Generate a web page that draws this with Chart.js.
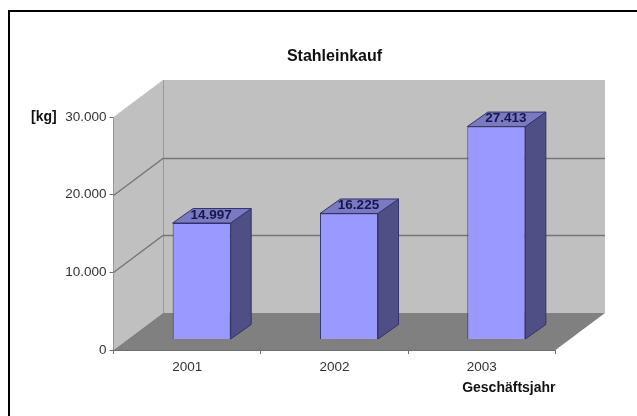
<!DOCTYPE html>
<html>
<head>
<meta charset="utf-8">
<title>Stahleinkauf</title>
<script src="https://cdn.jsdelivr.net/npm/chart.js@4"></script>
<style>
html, body { margin: 0; padding: 0; background: #fff; overflow: hidden; }
#wrap { position: relative; width: 637px; height: 416px; }
#frame { position: absolute; left: 8px; top: 10px; right: 0; bottom: 0; border-left: 2px solid #000; border-top: 2px solid #000; }
#my-chart { position: absolute; left: 0; top: 0; }
</style>
</head>
<body>
<div id="wrap">
<div id="frame"></div>
<canvas id="my-chart" width="637" height="416"></canvas>
</div>
<script>
const years = ['2001', '2002', '2003']
const steelKg = [14997, 16225, 27413]
const yAxisUnit = '[kg]'

const fontName = '"Liberation Sans", Arial, sans-serif'

//  3D look

const wallDepth = { x: 49.5, y: -37 }
const barOffset = { x: 14.5, y: -10.5 }
const barDepth = { x: 20.5, y: -14.5 }

const formatKg = function(v){
    return String(v).replace(/\B(?=(\d{3})+$)/g, '.')
}

var fillPoly = function(c, pts, fill, stroke){
    c.beginPath()
    pts.forEach((p, i) => { i == 0 ? c.moveTo(p[0], p[1]) : c.lineTo(p[0], p[1]) })
    c.closePath()
    c.fillStyle = fill
    c.fill()
    if(stroke){
        c.strokeStyle = stroke
        c.lineWidth = 1
        c.stroke()
    }
}

const walls = {
    id: 'walls',
    beforeDatasetsDraw(chart){
        const c = chart.ctx
        const a = chart.chartArea
        const dx = wallDepth.x, dy = wallDepth.y
        const yScale = chart.scales.y

        fillPoly(c, [[a.left + dx, a.top + dy], [a.right + dx, a.top + dy], [a.right + dx, a.bottom + dy], [a.left + dx, a.bottom + dy]], '#c0c0c0')
        fillPoly(c, [[a.left, a.bottom], [a.left, a.top], [a.left + dx, a.top + dy], [a.left + dx, a.bottom + dy]], '#c0c0c0')
        fillPoly(c, [[a.left, a.bottom], [a.right, a.bottom], [a.right + dx, a.bottom + dy], [a.left + dx, a.bottom + dy]], '#808080')

        c.strokeStyle = '#989898'
        c.lineWidth = 1
        c.beginPath()
        c.moveTo(a.left + dx + 0.5, a.top + dy)
        c.lineTo(a.left + dx + 0.5, a.bottom + dy)
        c.stroke()

        c.strokeStyle = '#767676'
        c.lineWidth = 1.4
        yScale.ticks.forEach(t => {
            if(t.value == yScale.min || t.value == yScale.max) return
            const y = Math.round(yScale.getPixelForValue(t.value)) + 0.5
            c.beginPath()
            c.moveTo(a.left, y)
            c.lineTo(a.left + dx, y + dy)
            c.lineTo(a.right + dx, y + dy)
            c.stroke()
        })

        // bars sit further back on the floor
        c.save()
        c.translate(barOffset.x, barOffset.y)
        chart.getDatasetMeta(0).data.forEach(bar => {
            const p = bar.getProps(['x', 'y', 'width', 'base'], true)
            const l = p.x - p.width / 2, r = p.x + p.width / 2
            fillPoly(c, [[r, p.y], [r + barDepth.x, p.y + barDepth.y], [r + barDepth.x, p.base + barDepth.y], [r, p.base]], '#4f4f85', '#33336b')
            fillPoly(c, [[l, p.y], [l + barDepth.x, p.y + barDepth.y], [r + barDepth.x, p.y + barDepth.y], [r, p.y]], '#7a7ac2', '#33336b')
        })
    },
    afterDatasetsDraw(chart){
        const c = chart.ctx
        c.fillStyle = '#16164a'
        c.font = 'bold 13.5px ' + fontName
        c.textAlign = 'center'
        c.textBaseline = 'middle'
        chart.getDatasetMeta(0).data.forEach((bar, i) => {
            const p = bar.getProps(['x', 'y'], true)
            c.fillText(formatKg(steelKg[i]), p.x + 9.5, p.y - 8)
        })
        c.restore()

        c.fillStyle = '#111'
        c.font = 'bold 14px ' + fontName
        c.textAlign = 'left'
        c.textBaseline = 'middle'
        c.fillText(yAxisUnit, 31, chart.scales.y.top)
    }
}

//  Chart

const config = {
    type: 'bar',
    data: {
        labels: years,
        datasets: [{
            data: steelKg,
            backgroundColor: '#9999ff',
            borderColor: '#33336b',
            borderWidth: 1,
            categoryPercentage: 1,
            barPercentage: 0.394
        }]
    },
    options: {
        responsive: false,
        animation: false,
        layout: { padding: { top: 47.4, right: 81.5, bottom: 0, left: 0 } },
        plugins: {
            legend: { display: false },
            tooltip: { enabled: false },
            title: {
                display: true,
                text: 'Stahleinkauf',
                fullSize: false,
                color: '#111',
                font: { family: fontName, size: 16, weight: 'bold', lineHeight: 1.2 },
                padding: { top: 0, bottom: 50.4 }
            }
        },
        scales: {
            x: {
                afterFit(scale){ scale.height = 66 },
                border: { color: '#6e6e6e' },
                grid: { drawOnChartArea: false, tickLength: 4, tickColor: '#6e6e6e' },
                ticks: { color: '#333', font: { family: fontName, size: 13.5 }, padding: 5, maxRotation: 0 },
                title: {
                    display: true,
                    text: 'Geschäftsjahr',
                    align: 'end',
                    color: '#111',
                    font: { family: fontName, size: 14, weight: 'bold', lineHeight: 1.2 },
                    padding: { top: 0, bottom: 19.6 }
                }
            },
            y: {
                min: 0,
                max: 30000,
                afterFit(scale){ scale.width = 113.5 },
                border: { color: '#6e6e6e' },
                grid: { drawOnChartArea: false, tickLength: 4, tickColor: '#6e6e6e' },
                ticks: { stepSize: 10000, color: '#333', font: { family: fontName, size: 13.5 }, padding: 3, callback: formatKg }
            }
        }
    },
    plugins: [walls]
}

const myChart = new Chart(document.querySelector('#my-chart').getContext('2d'), config)
</script>
</body>
</html>
